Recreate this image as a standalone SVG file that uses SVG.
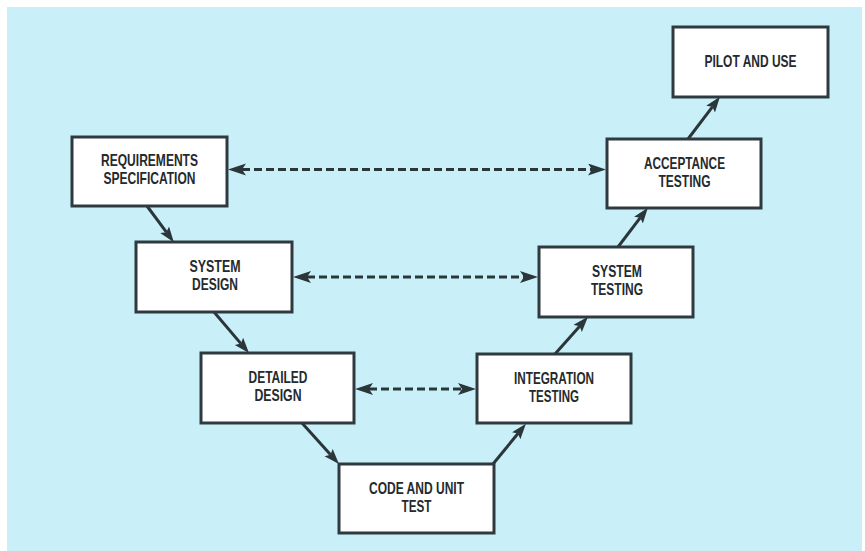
<svg xmlns="http://www.w3.org/2000/svg" width="865" height="551" viewBox="0 0 865 551">
  <defs>
    <style>
      .panel { fill: #c9f0f8; }
      .box { fill: #ffffff; stroke: #2e3a3f; stroke-width: 3; }
      .label { font-family: "Liberation Sans", Arial, sans-serif; font-weight: bold; font-size: 16.5px; fill: #252a2c; text-anchor: middle; }
      .flow { stroke: #2b363b; stroke-width: 3; fill: none; marker-end: url(#head); }
      .trace { stroke: #2b363b; stroke-width: 3; fill: none; stroke-dasharray: 8 4; marker-start: url(#dart); marker-end: url(#dart); }
    </style>
    <!-- solid flow arrowhead, anchored at its notch -->
    <marker id="head" markerUnits="userSpaceOnUse" markerWidth="18" markerHeight="12" refX="3" refY="5.5" orient="auto">
      <path d="M0,0 L15.5,5.5 L0,11 L3,5.5 z" fill="#2b363b"/>
    </marker>
    <!-- dashed two-way arrowhead, anchored at its notch -->
    <marker id="dart" markerUnits="userSpaceOnUse" markerWidth="20" markerHeight="13" refX="4" refY="6" orient="auto-start-reverse">
      <path d="M0,0 L18,6 L0,12 L4,6 z" fill="#2b363b"/>
    </marker>
  </defs>

  <rect class="panel" x="7" y="7" width="855" height="544"/>

  <g id="connectors">
    <!-- down the left leg -->
    <line class="flow" x1="147" y1="206" x2="166.4" y2="232.2"/>
    <line class="flow" x1="214" y1="312" x2="240.9" y2="343.6"/>
    <line class="flow" x1="302" y1="423" x2="330.6" y2="454.8"/>
    <!-- up the right leg -->
    <line class="flow" x1="493" y1="464" x2="518" y2="433.5"/>
    <line class="flow" x1="555" y1="354" x2="579.7" y2="326.2"/>
    <line class="flow" x1="618" y1="247" x2="640.3" y2="217.7"/>
    <line class="flow" x1="688" y1="139" x2="712.4" y2="106.8"/>
    <!-- verification links across the V -->
    <line class="trace" x1="242" y1="169.5" x2="592" y2="169.5"/>
    <line class="trace" x1="307" y1="277" x2="524" y2="277"/>
    <line class="trace" x1="369" y1="389" x2="462" y2="389"/>
  </g>

  <g id="pilot-and-use">
    <rect class="box" x="673" y="27" width="155" height="70"/>
    <text class="label" x="750.5" y="67" textLength="92" lengthAdjust="spacingAndGlyphs">PILOT AND USE</text>
  </g>

  <g id="requirements-specification">
    <rect class="box" x="72" y="137" width="155" height="69"/>
    <text class="label" x="149.5" y="166" textLength="97" lengthAdjust="spacingAndGlyphs">REQUIREMENTS</text>
    <text class="label" x="149.5" y="184" textLength="92" lengthAdjust="spacingAndGlyphs">SPECIFICATION</text>
  </g>

  <g id="acceptance-testing">
    <rect class="box" x="607" y="139" width="154" height="69"/>
    <text class="label" x="684.5" y="169" textLength="81" lengthAdjust="spacingAndGlyphs">ACCEPTANCE</text>
    <text class="label" x="684.5" y="187" textLength="52" lengthAdjust="spacingAndGlyphs">TESTING</text>
  </g>

  <g id="system-design">
    <rect class="box" x="136" y="242" width="156" height="70"/>
    <text class="label" x="215" y="272" textLength="51" lengthAdjust="spacingAndGlyphs">SYSTEM</text>
    <text class="label" x="215" y="290" textLength="46" lengthAdjust="spacingAndGlyphs">DESIGN</text>
  </g>

  <g id="system-testing">
    <rect class="box" x="539" y="247" width="154" height="70"/>
    <text class="label" x="617" y="277" textLength="50" lengthAdjust="spacingAndGlyphs">SYSTEM</text>
    <text class="label" x="617" y="295" textLength="52" lengthAdjust="spacingAndGlyphs">TESTING</text>
  </g>

  <g id="detailed-design">
    <rect class="box" x="201" y="353" width="153" height="70"/>
    <text class="label" x="278" y="383" textLength="59" lengthAdjust="spacingAndGlyphs">DETAILED</text>
    <text class="label" x="278" y="401" textLength="47" lengthAdjust="spacingAndGlyphs">DESIGN</text>
  </g>

  <g id="integration-testing">
    <rect class="box" x="477" y="354" width="154" height="69"/>
    <text class="label" x="554" y="384" textLength="80" lengthAdjust="spacingAndGlyphs">INTEGRATION</text>
    <text class="label" x="554" y="402" textLength="50" lengthAdjust="spacingAndGlyphs">TESTING</text>
  </g>

  <g id="code-and-unit-test">
    <rect class="box" x="339" y="464" width="155" height="69"/>
    <text class="label" x="416.5" y="494" textLength="95" lengthAdjust="spacingAndGlyphs">CODE AND UNIT</text>
    <text class="label" x="416.5" y="512" textLength="30" lengthAdjust="spacingAndGlyphs">TEST</text>
  </g>
</svg>
